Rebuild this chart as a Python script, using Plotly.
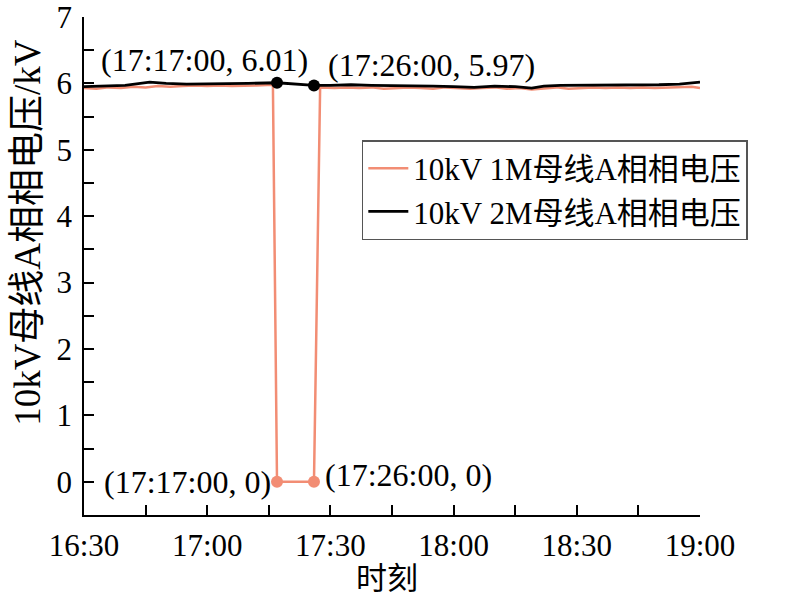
import plotly.graph_objects as go

DAY = "2024-01-01 "

# 10kV 2M bus A-phase voltage (black)
t_2m = ["16:30", "16:35", "16:40", "16:46", "16:50", "16:55", "17:00", "17:05", "17:10",
        "17:17", "17:26", "17:30", "17:35", "17:40", "17:45", "17:50", "17:55", "18:00",
        "18:05", "18:10", "18:15", "18:19", "18:22", "18:26", "18:30", "18:35", "18:40",
        "18:45", "18:50", "18:55", "19:00"]
v_2m = [5.95, 5.96, 5.97, 6.02, 6.00, 5.99, 5.99, 6.00, 6.00,
        6.01, 5.97, 5.97, 5.98, 5.97, 5.97, 5.96, 5.96, 5.95,
        5.94, 5.96, 5.95, 5.93, 5.96, 5.97, 5.97, 5.97, 5.97,
        5.97, 5.98, 5.99, 6.02]

# 10kV 1M bus A-phase voltage (salmon)
t_1m = ["16:30", "16:33", "16:36", "16:39", "16:42", "16:45", "16:48", "16:51", "16:54",
        "16:57", "17:00", "17:03", "17:06", "17:09", "17:12", "17:16", "17:17", "17:26",
        "17:27:30", "17:31", "17:34", "17:37", "17:40", "17:43", "17:46", "17:49", "17:52",
        "17:55", "17:58", "18:01", "18:04", "18:07", "18:10", "18:13", "18:16", "18:19",
        "18:22", "18:25", "18:28", "18:31", "18:34", "18:37", "18:40", "18:43", "18:46",
        "18:49", "18:52", "18:55", "18:58", "19:00"]
v_1m = [5.93, 5.92, 5.94, 5.93, 5.95, 5.94, 5.96, 5.95, 5.96,
        5.97, 5.96, 5.97, 5.96, 5.97, 5.97, 5.98, 0.0, 0.0,
        5.94, 5.93, 5.94, 5.93, 5.94, 5.92, 5.93, 5.94, 5.93,
        5.92, 5.94, 5.93, 5.92, 5.93, 5.94, 5.92, 5.93, 5.91,
        5.93, 5.94, 5.92, 5.93, 5.94, 5.93, 5.94, 5.93, 5.94,
        5.93, 5.94, 5.94, 5.95, 5.93]

# highlighted points
pts_2m_t = ["17:17", "17:26"]
pts_2m_v = [6.01, 5.97]
pts_1m_t = ["17:17", "17:26"]
pts_1m_v = [0.0, 0.0]

labels_2m = ["(17:17:00, 6.01)", "(17:26:00, 5.97)"]
labels_1m = ["(17:17:00, 0)", "(17:26:00, 0)"]

name_1m = "10kV 1M母线A相相电压"
name_2m = "10kV 2M母线A相相电压"
x_title = "时刻"
y_title = "10kV母线A相相电压/kV"

SALMON = "#F28D74"
FONT = "Liberation Serif, Times New Roman, Noto Sans CJK SC"

def ts(lst):
    return [DAY + (s if s.count(":") == 2 else s + ":00") for s in lst]

fig = go.Figure()
fig.add_trace(go.Scatter(x=ts(t_1m), y=v_1m, mode="lines", name=name_1m,
                         line=dict(color=SALMON, width=2.5)))
fig.add_trace(go.Scatter(x=ts(t_2m), y=v_2m, mode="lines", name=name_2m,
                         line=dict(color="black", width=2.8)))
fig.add_trace(go.Scatter(x=ts(pts_1m_t), y=pts_1m_v, mode="markers", showlegend=False,
                         marker=dict(color=SALMON, size=12)))
fig.add_trace(go.Scatter(x=ts(pts_2m_t), y=pts_2m_v, mode="markers", showlegend=False,
                         marker=dict(color="black", size=12)))

ann_font = dict(family=FONT, size=32, color="black")
# 2M labels
fig.add_annotation(x=ts(pts_2m_t)[0], y=pts_2m_v[0], text=labels_2m[0], showarrow=False,
                   xanchor="right", yanchor="middle", xshift=33, yshift=23, font=ann_font)
fig.add_annotation(x=ts(pts_2m_t)[1], y=pts_2m_v[1], text=labels_2m[1], showarrow=False,
                   xanchor="left", yanchor="middle", xshift=12, yshift=20, font=ann_font)
# 1M labels
fig.add_annotation(x=ts(pts_1m_t)[0], y=pts_1m_v[0], text=labels_1m[0], showarrow=False,
                   xanchor="right", yanchor="middle", xshift=-4, yshift=0, font=ann_font)
fig.add_annotation(x=ts(pts_1m_t)[1], y=pts_1m_v[1], text=labels_1m[1], showarrow=False,
                   xanchor="left", yanchor="middle", xshift=9, yshift=7, font=ann_font)

# axis titles
fig.add_annotation(xref="paper", yref="paper", x=0.492, y=-0.127, text=x_title,
                   showarrow=False, xanchor="center", yanchor="middle",
                   font=dict(family=FONT, size=31, color="black"))
fig.add_annotation(xref="paper", yref="paper", x=-0.093, y=0.568, text=y_title,
                   textangle=-90, showarrow=False, xanchor="center", yanchor="middle",
                   font=dict(family=FONT, size=37, color="black"))

axis_common = dict(showline=True, linecolor="black", linewidth=1.5, mirror=False,
                   ticks="inside", ticklen=10, tickwidth=1.5, tickcolor="black",
                   showgrid=False, zeroline=False, automargin=False,
                   ticklabeloverflow="allow",
                   tickfont=dict(family=FONT, size=31, color="black"))

fig.update_xaxes(type="date", range=[DAY + "16:30:00", DAY + "19:00:00"],
                 tick0=DAY + "16:30:00", dtick=1800000, tickformat="%H:%M",
                 minor=dict(dtick=900000, ticks="inside", ticklen=10, tickwidth=1.5,
                            tickcolor="black", showgrid=False),
                 ticklabelstandoff=2,
                 **axis_common)
fig.update_yaxes(range=[-0.5, 7], tick0=0, dtick=1,
                 minor=dict(dtick=0.5, ticks="inside", ticklen=10, tickwidth=1.5,
                            tickcolor="black", showgrid=False),
                 ticklabelstandoff=4,
                 **axis_common)

fig.update_layout(
    width=800, height=598,
    margin=dict(l=84, r=100, t=17, b=83),
    paper_bgcolor="white", plot_bgcolor="white",
    font=dict(family=FONT, size=30, color="black"),
    legend=dict(x=0.451, y=0.753, xanchor="left", yanchor="top",
                bgcolor="white", bordercolor="#555555", borderwidth=1.5,
                font=dict(family=FONT, size=31, color="black"),
                tracegroupgap=0, itemwidth=40),
    showlegend=True,
)

fig.write_html("out.html", config={"displayModeBar": False},
               post_script="document.body.style.margin='0';document.body.style.overflow='hidden';")
